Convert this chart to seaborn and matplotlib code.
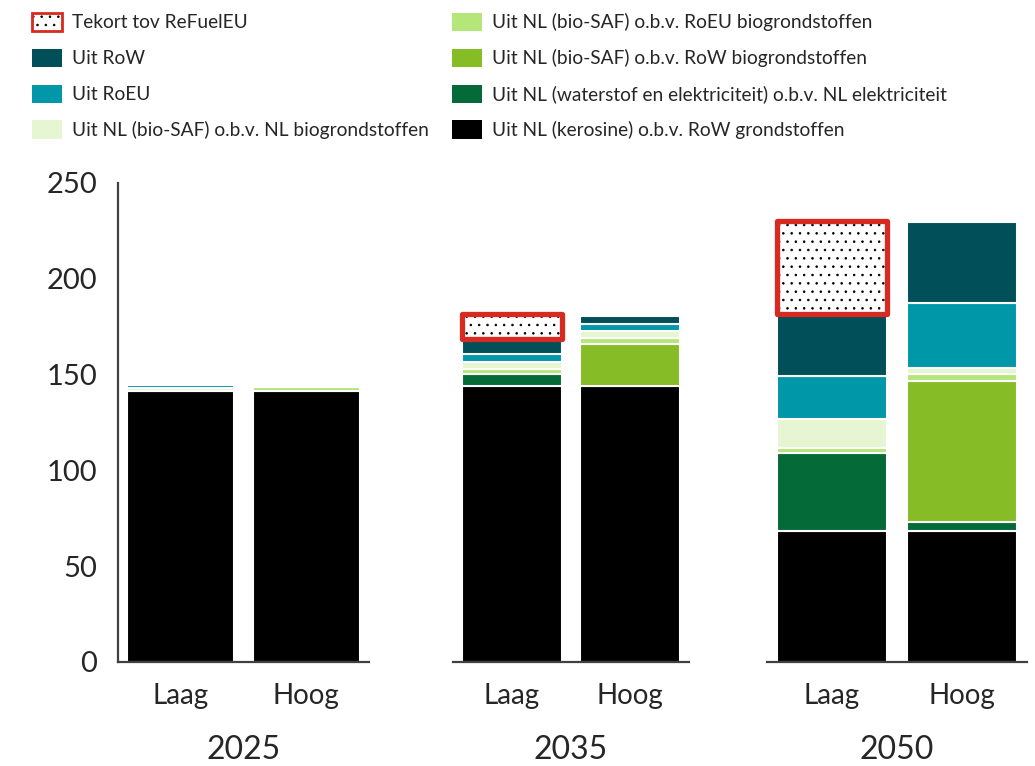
import matplotlib
matplotlib.use("Agg")
import matplotlib.pyplot as plt
import matplotlib.patches as mpatches
import pandas as pd
import seaborn as sns

# Scenario columns: 2025 Laag, 2025 Hoog, 2035 Laag, 2035 Hoog, 2050 Laag, 2050 Hoog
years = ["2025", "2035", "2050"]
scenarios = ["Laag", "Hoog"]

kerosine = [141.5, 141.5, 144.2, 144.2, 68.5, 68.5]
waterstof = [0.0, 0.0, 6.1, 0.0, 40.4, 4.7]
bio_row = [0.0, 0.0, 0.0, 21.6, 0.0, 73.6]
bio_roeu = [0.0, 2.0, 2.8, 3.5, 2.6, 3.7]
bio_nl = [1.4, 0.0, 3.7, 3.5, 15.3, 2.9]
uit_roeu = [1.6, 0.0, 4.1, 3.6, 22.5, 33.8]
uit_row = [0.0, 0.0, 7.5, 4.4, 32.3, 42.5]
tekort = [0.0, 0.0, 13.0, 0.0, 48.6, 0.0]

# stacking order, bottom to top
series = [
    ("kerosine", "Uit NL (kerosine) o.b.v. RoW grondstoffen", kerosine, "#000000"),
    ("waterstof", "Uit NL (waterstof en elektriciteit) o.b.v. NL elektriciteit", waterstof, "#046a38"),
    ("bio_row", "Uit NL (bio-SAF) o.b.v. RoW biogrondstoffen", bio_row, "#86bc25"),
    ("bio_roeu", "Uit NL (bio-SAF) o.b.v. RoEU biogrondstoffen", bio_roeu, "#b4e67a"),
    ("bio_nl", "Uit NL (bio-SAF) o.b.v. NL biogrondstoffen", bio_nl, "#e6f5d2"),
    ("uit_roeu", "Uit RoEU", uit_roeu, "#0097a9"),
    ("uit_row", "Uit RoW", uit_row, "#004f59"),
    ("tekort", "Tekort tov ReFuelEU", tekort, "#ffffff"),
]
RED = "#d82a20"

rows = []
for key, label, vals, col in series:
    for i, v in enumerate(vals):
        rows.append({"jaar": years[i // 2], "scenario": scenarios[i % 2],
                     "component": key, "waarde": v})
df = pd.DataFrame(rows)

sns.set_style("white")
plt.rcParams["font.family"] = ["Lato", "DejaVu Sans"]
plt.rcParams["hatch.linewidth"] = 0.6

W, H = 1035, 766
fig = plt.figure(figsize=(W / 100, H / 100), dpi=100)

panels = {"2025": (118, 251), "2035": (453, 236), "2050": (767, 260)}
y0, y1 = 662, 183

axes = []
for year in years:
    left, width = panels[year]
    ax = fig.add_axes([left / W, 1 - y0 / H, width / W, (y0 - y1) / H])
    axes.append(ax)
    dy = df[df["jaar"] == year]
    base = {s: 0.0 for s in scenarios}
    for key, label, vals, col in series:
        sub = dy[(dy["component"] == key) & (dy["waarde"] > 0)]
        if sub.empty:
            continue
        bottoms = [base[s] for s in sub["scenario"]]
        if key == "tekort":
            sns.barplot(data=sub, x="scenario", y="waarde", order=scenarios,
                        bottom=bottoms, color="white", saturation=1,
                        width=0.85, errorbar=None, ax=ax)
            for p in ax.containers[-1]:
                p.set_facecolor("white")
                p.set_edgecolor("black")
                p.set_linewidth(0)
                p.set_hatch("..")
            sns.barplot(data=sub, x="scenario", y="waarde", order=scenarios,
                        bottom=bottoms, color=RED, saturation=1,
                        width=0.85, errorbar=None, ax=ax)
            for p in ax.containers[-1]:
                p.set_facecolor("none")
                p.set_edgecolor(RED)
                p.set_linewidth(3.8)
                p.set_joinstyle("round")
                p.set_zorder(3)
        else:
            sns.barplot(data=sub, x="scenario", y="waarde", order=scenarios,
                        bottom=bottoms, color=col, saturation=1,
                        width=0.85, errorbar=None, ax=ax)
            for p in ax.containers[-1]:
                p.set_facecolor(col)
                p.set_edgecolor("white")
                p.set_linewidth(1.5)
        for s, v in zip(sub["scenario"], sub["waarde"]):
            base[s] += v

    ax.set_xlim(-0.5, 1.5)
    ax.set_ylim(0, 250)
    ax.set_ylabel("")
    ax.set_xlabel(year, fontsize=23, labelpad=19)
    ax.tick_params(axis="x", length=0, pad=15, labelsize=20)
    for side in ["top", "right"]:
        ax.spines[side].set_visible(False)
    ax.spines["bottom"].set_color("#404040")
    ax.spines["bottom"].set_linewidth(1.6)
    if year == "2025":
        ax.spines["left"].set_color("#404040")
        ax.spines["left"].set_linewidth(1.6)
        ax.set_yticks([0, 50, 100, 150, 200, 250])
        ax.tick_params(axis="y", length=0, pad=15, labelsize=21)
    else:
        ax.spines["left"].set_visible(False)
        ax.set_yticks([])

# legend (column-wise: top segments first)
handles, labels = [], []
for key, label, vals, col in reversed(series):
    if key == "tekort":
        dots = mpatches.Patch(facecolor="white", edgecolor="black", linewidth=0, hatch="..")
        frame = mpatches.Patch(facecolor="none", edgecolor=RED, linewidth=2.0)
        handles.append((dots, frame))
    else:
        handles.append(mpatches.Patch(facecolor=col, edgecolor="none"))
    labels.append(label)

fig.legend(handles, labels, loc="upper left", bbox_to_anchor=(22 / W, 1 - 3 / H),
           ncol=2, frameon=False, fontsize=13.8, handlelength=1.6, handleheight=1.1,
           handletextpad=0.5, labelspacing=0.9, columnspacing=1.2, borderpad=0)

fig.savefig("out.png", dpi=100)
